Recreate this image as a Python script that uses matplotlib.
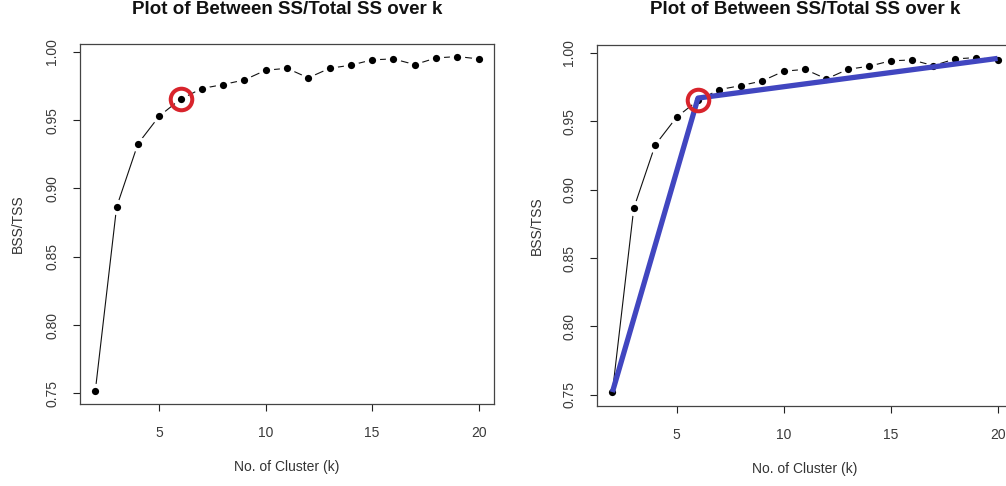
import matplotlib
matplotlib.use("Agg")
import matplotlib.pyplot as plt

k_values = list(range(2, 21))
bss_tss = [0.752, 0.8865, 0.9327, 0.953, 0.9654, 0.9732, 0.9761, 0.9795, 0.9866,
           0.988, 0.981, 0.988, 0.9903, 0.9942, 0.9949, 0.9907, 0.9956, 0.9966, 0.9949]
elbow_k = 6
elbow_v = 0.9654
blue_k = [2, 6, 20]
blue_v = [0.752, 0.967, 0.996]

title = "Plot of Between SS/Total SS over k"
xlabel = "No. of Cluster (k)"
ylabel = "BSS/TSS"
xticks = [5, 10, 15, 20]
yticks = [0.75, 0.80, 0.85, 0.90, 0.95, 1.00]

plt.rcParams['font.family'] = ['Liberation Sans', 'DejaVu Sans']

W, H = 1006, 486
fig = plt.figure(figsize=(W / 100, H / 100), dpi=100)

def make_axes(left_px, top_px, bottom_px, width_px):
    return fig.add_axes([left_px / W, (H - bottom_px) / H, width_px / W, (bottom_px - top_px) / H])

ax1 = make_axes(80, 44, 404, 414)
ax2 = make_axes(597, 45, 405.5, 416)

for ax in (ax1, ax2):
    ax.plot(k_values, bss_tss, color='#111111', lw=0.8, zorder=1)
    ax.plot(k_values, bss_tss, 'o', ms=11, color='white', mec='none', zorder=2)
    ax.plot(k_values, bss_tss, 'o', ms=5.2, color='black', mec='none', zorder=3)
    ax.set_xlim(1.28, 20.72)
    ax.set_ylim(0.7422, 1.0058)
    ax.set_xticks(xticks)
    ax.set_xticklabels([str(t) for t in xticks])
    ax.set_yticks(yticks)
    ax.set_yticklabels([f"{t:.2f}" for t in yticks], rotation=90, va='center')
    ax.tick_params(direction='out', length=5, width=0.8, labelsize=10,
                   colors='#222222', labelcolor='#3a3a3a')
    ax.tick_params(axis='x', pad=11)
    ax.tick_params(axis='y', pad=10)
    for s in ax.spines.values():
        s.set_color('#444444')
        s.set_linewidth(0.9)
    ax.set_xlabel(xlabel, fontsize=10, color='#333333', va='center')
    ax.set_ylabel(ylabel, fontsize=10, color='#333333', va='center')

ax1.xaxis.set_label_coords(0.5, -0.175)
ax1.yaxis.set_label_coords(-0.15, 0.5)
ax2.xaxis.set_label_coords(0.5, -0.175)
ax2.yaxis.set_label_coords(-0.144, 0.5)

# blue segmented line on right panel
ax2.plot(blue_k, blue_v, color='#4146c0', lw=3.8, solid_capstyle='butt', zorder=4)

# red circle around elbow
for ax in (ax1, ax2):
    ax.plot([elbow_k], [elbow_v], 'o', ms=15.5, mfc='none', mec='#d8242c', mew=2.9, zorder=5)

# titles
for ax in (ax1, ax2):
    pos = ax.get_position()
    fig.text(pos.x0 + pos.width / 2, 1 - 10 / H, title, ha='center', va='center',
             fontsize=13.5, fontweight='bold', color='#111111')

fig.savefig("out.png", dpi=100)
